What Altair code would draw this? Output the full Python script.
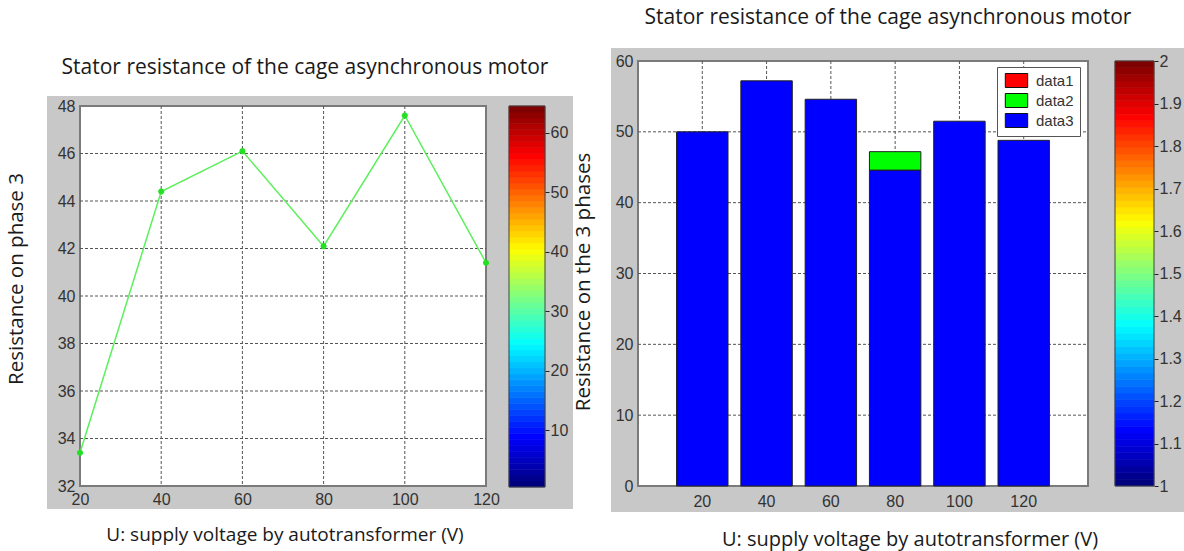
import altair as alt
import numpy as np
import pandas as pd

# ---------------- data ----------------
voltages = [20, 40, 60, 80, 100, 120]                 # U (V)
phase3_resistance = [33.4, 44.4, 46.1, 42.1, 47.6, 41.4]

series_names = ["data1", "data2", "data3"]
series_colors = ["#ff0000", "#00ff00", "#0000ff"]
data1_values = [0, 0, 0, 0, 0, 0]
data2_values = [0, 0, 0, 2.6, 0, 0]
data3_values = [50.0, 57.2, 54.6, 44.6, 51.5, 48.8]

left_x_ticks = [20, 40, 60, 80, 100, 120]
left_y_ticks = [32, 34, 36, 38, 40, 42, 44, 46, 48]
right_y_ticks = [0, 10, 20, 30, 40, 50, 60]
left_cbar_ticks = [10, 20, 30, 40, 50, 60]
right_cbar_ticks = [1.0, 1.1, 1.2, 1.3, 1.4, 1.5, 1.6, 1.7, 1.8, 1.9, 2.0]

main_title = "Stator resistance of the cage asynchronous motor"
x_title = "U: supply voltage by autotransformer (V)"
left_y_title = "Resistance on phase 3"
right_y_title = "Resistance on the 3 phases"

# ---------------- layout (pixels) ----------------
W, H = 1184, 551
L_FRAME = (47, 96, 573, 509)
R_FRAME = (611, 48, 1184, 512)
L_PLOT = (80, 106, 486, 486)
R_PLOT = (638, 61, 1088, 486)
L_CBAR = (509, 106, 545, 487)
R_CBAR = (1115, 61, 1154, 486)

FRAME_GRAY = "#c8c8c8"
BOX_GRAY = "#7a7a7a"
GRID_COLOR = "#555555"
TICK_FONT = "Liberation Sans Narrow, Arial Narrow, Liberation Sans"
TEXT_FONT = "Open Sans"

blank = alt.Data(values=[{}])


def rect(box, **mark):
    x0, y0, x1, y1 = box
    return alt.Chart(blank).mark_rect(**mark).encode(
        x=alt.value(x0), x2=alt.value(x1), y=alt.value(y0), y2=alt.value(y1)
    )


def text(t, x, y, size, angle=0):
    return alt.Chart(blank).mark_text(
        text=t, font=TEXT_FONT, fontSize=size, angle=angle, color="#1a1a1a",
        align="center", baseline="middle",
    ).encode(x=alt.value(x), y=alt.value(y))


def tick_axis(orient, offset, values, pad, fmt=None, ticks=False):
    kw = dict(
        orient=orient, offset=offset, values=values, title=None, grid=False,
        domain=False, ticks=ticks, labelFont=TICK_FONT, labelFontSize=16,
        labelColor="#333333", labelPadding=pad, labelFlush=False,
        labelOverlap=False, labelAngle=0, zindex=1,
    )
    if ticks:
        kw.update(tickSize=4, tickColor="#222222", tickWidth=1)
    if fmt:
        kw["format"] = fmt
    return alt.Axis(**kw)


def jet(n):
    x = np.linspace(0, 1, n)
    r = np.clip(np.minimum(4 * x - 1.5, -4 * x + 4.5), 0, 1)
    g = np.clip(np.minimum(4 * x - 0.5, -4 * x + 3.5), 0, 1)
    b = np.clip(np.minimum(4 * x + 0.5, -4 * x + 2.5), 0, 1)
    return ["#%02x%02x%02x" % (int(R * 255), int(G * 255), int(B * 255)) for R, G, B in zip(r, g, b)]


# ---------------- left panel: line chart ----------------
def lx():
    return alt.Scale(domain=[20, 120], range=[L_PLOT[0], L_PLOT[2]], zero=False, nice=False)


def ly():
    return alt.Scale(domain=[32, 48], range=[L_PLOT[3], L_PLOT[1]], zero=False, nice=False)


left_df = pd.DataFrame({"U": voltages, "R": phase3_resistance})

left_vg = alt.Chart(pd.DataFrame({"U": left_x_ticks[1:-1]})).mark_rule(
    color=GRID_COLOR, strokeDash=[3, 2], strokeWidth=1
).encode(x=alt.X("U:Q", scale=lx(), axis=None), y=alt.value(L_PLOT[1]), y2=alt.value(L_PLOT[3]))
left_hg = alt.Chart(pd.DataFrame({"R": left_y_ticks[1:-1]})).mark_rule(
    color=GRID_COLOR, strokeDash=[3, 2], strokeWidth=1
).encode(y=alt.Y("R:Q", scale=ly(), axis=None), x=alt.value(L_PLOT[0]), x2=alt.value(L_PLOT[2]))
left_line = alt.Chart(left_df).mark_line(color="#5cf05c", strokeWidth=1.5).encode(
    x=alt.X("U:Q", scale=lx(), axis=tick_axis("bottom", -(H - L_PLOT[3]), left_x_ticks, 5)),
    y=alt.Y("R:Q", scale=ly(), axis=tick_axis("left", -L_PLOT[0], left_y_ticks, 5)),
)
asterisk = "M-1,0L1,0M0,-1L0,1M-0.7,-0.7L0.7,0.7M-0.7,0.7L0.7,-0.7"
left_pts = alt.Chart(left_df).mark_point(
    shape=asterisk, filled=False, stroke="#22e022", strokeWidth=2, size=36, opacity=1
).encode(x=alt.X("U:Q", scale=lx(), axis=None), y=alt.Y("R:Q", scale=ly(), axis=None))

# ---------------- right panel: bar chart ----------------
def rx():
    return alt.Scale(domain=voltages, range=[R_PLOT[0], R_PLOT[2]], paddingInner=0.2, paddingOuter=0.6)


def ry():
    return alt.Scale(domain=[0, 60], range=[R_PLOT[3], R_PLOT[1]], zero=False, nice=False)


rows = []
for rank, (name, vals) in enumerate(zip(["data3", "data2", "data1"], [data3_values, data2_values, data1_values])):
    for u, v in zip(voltages, vals):
        if v > 0:
            rows.append({"U": u, "series": name, "value": v, "rank": rank})
bars_df = pd.DataFrame(rows)

right_vg = alt.Chart(pd.DataFrame({"U": voltages})).mark_rule(
    color=GRID_COLOR, strokeDash=[3, 2], strokeWidth=1
).encode(
    x=alt.X("U:O", scale=rx(), axis=None, bandPosition=0.5),
    y=alt.value(R_PLOT[1]), y2=alt.value(R_PLOT[3]),
)
right_hg = alt.Chart(pd.DataFrame({"R": right_y_ticks[1:-1]})).mark_rule(
    color=GRID_COLOR, strokeDash=[3, 2], strokeWidth=1
).encode(y=alt.Y("R:Q", scale=ry(), axis=None), x=alt.value(R_PLOT[0]), x2=alt.value(R_PLOT[2]))

legend_rect = "M-1.6,-1L1.6,-1L1.6,1L-1.6,1Z"
right_bars = alt.Chart(bars_df).mark_bar(stroke="#222222", strokeWidth=1, opacity=1).encode(
    x=alt.X("U:O", scale=rx(), axis=tick_axis("bottom", -(H - R_PLOT[3]), voltages, 7)),
    y=alt.Y("value:Q", stack="zero", scale=ry(), axis=tick_axis("left", -R_PLOT[0], right_y_ticks, 5)),
    color=alt.Color(
        "series:N",
        scale=alt.Scale(domain=series_names, range=series_colors),
        legend=alt.Legend(
            orient="none", legendX=997, legendY=67, title=None,
            fillColor="white", strokeColor="#555555", padding=6,
            symbolType=legend_rect, symbolSize=196, symbolStrokeColor="#111111",
            symbolStrokeWidth=1, symbolOpacity=1, symbolOffset=6,
            labelFont=TICK_FONT, labelFontSize=15, labelColor="#333333",
            labelOffset=12, rowPadding=1, zindex=1,
        ),
    ),
    order=alt.Order("rank:Q", sort="ascending"),
)

# ---------------- colour bars ----------------
cmap = jet(64)
levels = np.arange(1, 65)
left_cbar_df = pd.DataFrame({"lo": levels - 0.5, "hi": levels + 0.5, "hex": cmap})
right_cbar_df = pd.DataFrame({"lo": 1 + (levels - 1) / 64, "hi": 1 + levels / 64, "hex": cmap})

left_cbar = alt.Chart(left_cbar_df).mark_rect(strokeWidth=0.6).encode(
    x=alt.value(L_CBAR[0]), x2=alt.value(L_CBAR[2]),
    y=alt.Y("lo:Q", scale=alt.Scale(domain=[0.5, 64.5], range=[L_CBAR[3], L_CBAR[1]], zero=False, nice=False),
            axis=tick_axis("right", -(W - L_CBAR[2]), left_cbar_ticks, 1, ticks=True)),
    y2="hi:Q",
    color=alt.Color("hex:N", scale=None),
    stroke=alt.Stroke("hex:N", scale=None),
)
right_cbar = alt.Chart(right_cbar_df).mark_rect(strokeWidth=0.6).encode(
    x=alt.value(R_CBAR[0]), x2=alt.value(R_CBAR[2]),
    y=alt.Y("lo:Q", scale=alt.Scale(domain=[1, 2], range=[R_CBAR[3], R_CBAR[1]], zero=False, nice=False),
            axis=tick_axis("right", -(W - R_CBAR[2]), right_cbar_ticks, 1, fmt="~g", ticks=True)),
    y2="hi:Q",
    color=alt.Color("hex:N", scale=None),
    stroke=alt.Stroke("hex:N", scale=None),
)

# ---------------- assemble ----------------
chart = alt.layer(
    rect(L_FRAME, fill=FRAME_GRAY),
    rect(R_FRAME, fill=FRAME_GRAY),
    rect(L_PLOT, fill="white", stroke=BOX_GRAY, strokeWidth=2),
    rect(R_PLOT, fill="white", stroke=BOX_GRAY, strokeWidth=2),
    left_vg, left_hg, left_line, left_pts,
    right_vg, right_hg, right_bars,
    left_cbar,
    rect(L_CBAR, fill=None, stroke="#444444", strokeWidth=1),
    right_cbar,
    rect(R_CBAR, fill=None, stroke="#444444", strokeWidth=1),
    text(main_title, 305, 68, 21),
    text(main_title, 888, 18, 21),
    text(left_y_title, 17, 279, 20.5, angle=270),
    text(right_y_title, 584, 282, 20.5, angle=270),
    text(x_title, 285, 535, 19),
    text(x_title, 910, 540, 20),
).resolve_scale(
    x="independent", y="independent", color="independent", stroke="independent"
).properties(
    width=W, height=H, padding=0, autosize="none", background="white"
).configure_view(stroke=None)

chart.save("out.html", embed_options={"renderer": "svg", "actions": False})
